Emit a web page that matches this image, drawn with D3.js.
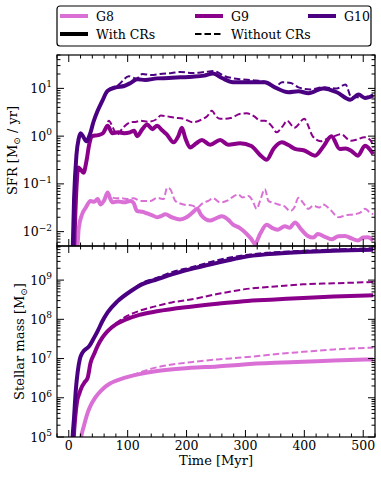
<!DOCTYPE html>
<html>
<head>
  <meta charset="utf-8">
  <title>SFR and stellar mass</title>
  <style>
    body { margin: 0; background: #fff; }
    svg { display: block; font-family: "DejaVu Serif", serif; }
    .frame { fill: none; stroke: #000; stroke-width: 1.2px; }
    .tick { stroke: #000; stroke-width: 1px; }
    .solid { fill: none; stroke-width: 4px; stroke-linejoin: round; stroke-linecap: butt; }
    .dashed { fill: none; stroke-width: 2px; stroke-dasharray: 6.5 3; }
  </style>
</head>
<body>
<svg width="381" height="477"></svg>
<script src="https://d3js.org/d3.v7.min.js"></script>
<script>
// galaxies and their colours
var galaxies = ['G8', 'G9', 'G10'];
var colors = ['#da70d6', '#8b008b', '#4b0082'];

// x axis ticks [Myr]
var timeTicks = [0, 100, 200, 300, 400, 500];

// SFR [Msun/yr], [time, value]
var sfrG10With = [[6,0.002],[9,0.05],[13,0.4],[17,0.9],[20,1.15],[24,1.0],[30,0.78],[36,1.1],[42,2.0],[49,3.4],[57,5.5],[66,8.9],[80,10.5],[94,11.2],[105,13],[116,15.5],[130,15],[150,16.2],[170,16.5],[190,17],[210,17.5],[230,18.5],[245,20.4],[260,16.5],[279,13.5],[295,13.5],[313,13.5],[333,13.5],[350,10.5],[373,8.3],[390,8.7],[407,7.9],[432,10],[455,8.3],[478,5.8],[492,7.4],[503,6.3],[517,7.1]];
var sfrG10Without = [[6,0.002],[9,0.05],[13,0.4],[17,0.9],[20,1.15],[24,1.0],[30,0.78],[36,1.1],[42,2.0],[49,3.4],[57,5.8],[70,9.5],[85,12],[102,18],[115,16],[125,20],[140,19],[155,20],[175,21],[189,22],[210,21],[230,22],[246,23],[265,18],[291,15.5],[313,14.8],[336,13.5],[350,10.5],[362,13.5],[377,13],[390,10.5],[410,9.5],[432,10.5],[455,10],[470,12],[480,6.5],[503,6.6],[517,7.4]];
var sfrG9With = [[9,0.004],[13,0.08],[16,0.22],[20,0.2],[25,0.17],[30,0.3],[35,0.7],[40,1.0],[50,1.05],[58,1.15],[66,1.65],[74,1.15],[84,1.2],[94,1.15],[104,1.2],[111,1.3],[116,1.0],[125,1.4],[133,1.75],[142,1.4],[150,1.65],[158,1.35],[166,1.1],[178,0.74],[186,1.0],[192,1.5],[198,0.9],[206,0.58],[216,0.7],[226,0.83],[240,0.66],[257,0.83],[271,0.66],[291,0.71],[310,0.62],[325,0.4],[336,0.32],[348,0.55],[362,0.74],[373,0.65],[384,0.54],[400,0.5],[418,0.39],[432,0.6],[446,1.0],[460,0.54],[470,0.55],[480,0.49],[491,0.39],[503,0.63],[517,0.42]];
var sfrG9Without = [[9,0.004],[13,0.08],[16,0.22],[20,0.2],[25,0.17],[30,0.3],[35,0.7],[40,1.0],[50,1.05],[58,1.2],[62,1.4],[68,2.1],[75,1.5],[82,1.07],[92,1.5],[105,1.95],[115,2.0],[122,2.1],[135,2.0],[150,2.3],[156,2.7],[167,2.6],[178,2.45],[195,2.3],[211,1.95],[225,2.2],[235,2.6],[243,3.4],[250,2.6],[257,2.3],[275,2.4],[290,2.9],[302,3.0],[315,2.6],[325,2.1],[333,2.1],[345,1.6],[353,1.2],[363,1.6],[371,2.1],[383,1.5],[400,2.3],[407,1.6],[414,1.0],[428,0.78],[440,0.9],[451,1.0],[462,1.1],[479,0.8],[490,0.85],[502,0.95],[513,0.8],[517,0.58]];
var sfrG8With = [[14,0.003],[17,0.012],[22,0.022],[29,0.032],[37,0.044],[43,0.042],[49,0.048],[54,0.037],[60,0.045],[66,0.066],[70,0.05],[74,0.041],[84,0.043],[94,0.041],[105,0.044],[110,0.04],[116,0.027],[125,0.026],[133,0.024],[142,0.022],[150,0.02],[156,0.021],[164,0.023],[175,0.02],[189,0.018],[200,0.02],[210,0.025],[218,0.03],[225,0.022],[240,0.017],[250,0.019],[260,0.021],[270,0.018],[279,0.014],[290,0.012],[302,0.009],[310,0.007],[316,0.0055],[325,0.009],[336,0.014],[345,0.012],[355,0.011],[367,0.013],[375,0.012],[384,0.0155],[395,0.011],[406,0.0081],[415,0.0075],[423,0.0089],[435,0.0078],[446,0.0069],[458,0.008],[469,0.0081],[480,0.0072],[491,0.0065],[500,0.0075],[508,0.0076],[517,0.0065]];
var sfrG8Without = [[14,0.003],[17,0.012],[22,0.022],[29,0.032],[37,0.044],[43,0.042],[49,0.048],[54,0.037],[60,0.045],[66,0.066],[70,0.055],[80,0.05],[90,0.05],[100,0.048],[110,0.05],[122,0.044],[139,0.044],[150,0.051],[161,0.048],[167,0.083],[172,0.078],[181,0.044],[195,0.037],[210,0.035],[218,0.032],[228,0.04],[237,0.044],[245,0.05],[257,0.041],[270,0.045],[280,0.055],[288,0.06],[295,0.052],[305,0.056],[312,0.045],[319,0.03],[325,0.045],[333,0.078],[339,0.044],[348,0.04],[356,0.037],[366,0.034],[376,0.027],[383,0.032],[390,0.051],[398,0.04],[407,0.03],[415,0.035],[425,0.032],[432,0.037],[445,0.028],[458,0.02],[470,0.022],[483,0.023],[495,0.025],[503,0.03],[510,0.026],[517,0.023]];

// stellar mass [Msun], [time, value]
var mstarG10With = [[5,2e4],[6,6.3e4],[9,3.2e5],[12,1.6e6],[15,4.4e6],[19,1.0e7],[23,1.4e7],[35,2.1e7],[42,3.2e7],[49,5.0e7],[57,8.9e7],[66,1.5e8],[83,2.9e8],[105,5.2e8],[125,7.9e8],[150,1.05e9],[175,1.4e9],[207,1.9e9],[252,2.75e9],[297,3.9e9],[340,4.6e9],[398,5.2e9],[450,5.6e9],[517,5.9e9]];
var mstarG10Without = [[5,2e4],[6,6.3e4],[9,3.2e5],[12,1.6e6],[15,4.4e6],[19,1.0e7],[23,1.4e7],[35,2.1e7],[42,3.2e7],[49,5.0e7],[57,8.9e7],[66,1.5e8],[83,2.9e8],[105,5.3e8],[125,8.5e8],[150,1.15e9],[175,1.6e9],[207,2.1e9],[252,3.2e9],[297,4.3e9],[340,5.0e9],[398,5.6e9],[450,6.0e9],[517,6.5e9]];
var mstarG9With = [[7,2e4],[8,6.3e4],[11,3.2e5],[14,7.9e5],[18,1.3e6],[23,2.0e6],[27,2.5e6],[32,3.2e6],[37,7.8e6],[43,1.3e7],[49,2.1e7],[57,3.4e7],[66,5.0e7],[80,7.4e7],[94,9.5e7],[120,1.3e8],[150,1.6e8],[207,2.1e8],[252,2.5e8],[297,2.9e8],[350,3.2e8],[398,3.5e8],[450,3.8e8],[517,4.1e8]];
var mstarG9Without = [[7,2e4],[8,6.3e4],[11,3.2e5],[14,7.9e5],[18,1.3e6],[23,2.0e6],[27,2.5e6],[32,3.2e6],[37,7.8e6],[43,1.3e7],[49,2.1e7],[57,3.4e7],[66,5.0e7],[80,7.9e7],[94,1.1e8],[120,1.65e8],[150,2.2e8],[175,2.7e8],[207,3.2e8],[252,4.4e8],[297,5.8e8],[350,6.9e8],[398,7.8e8],[450,8.3e8],[517,8.9e8]];
var mstarG8With = [[17,2e4],[18,5.0e4],[21,1.0e5],[26,2.0e5],[32,4.1e5],[37,6.3e5],[43,9.1e5],[50,1.26e6],[60,1.8e6],[70,2.3e6],[77,2.6e6],[94,3.2e6],[120,4.0e6],[150,4.8e6],[207,5.8e6],[252,6.3e6],[297,7.1e6],[350,7.8e6],[398,8.3e6],[450,8.9e6],[517,9.5e6]];
var mstarG8Without = [[17,2e4],[18,5.0e4],[21,1.0e5],[26,2.0e5],[32,4.1e5],[37,6.3e5],[43,9.1e5],[50,1.26e6],[60,1.8e6],[70,2.3e6],[77,2.6e6],[94,3.2e6],[100,3.4e6],[120,4.4e6],[150,6.0e6],[207,8.1e6],[252,9.5e6],[297,1.07e7],[350,1.29e7],[398,1.48e7],[450,1.7e7],[517,1.9e7]];

var sfrWith = [sfrG8With, sfrG9With, sfrG10With];
var sfrWithout = [sfrG8Without, sfrG9Without, sfrG10Without];
var mstarWith = [mstarG8With, mstarG9With, mstarG10With];
var mstarWithout = [mstarG8Without, mstarG9Without, mstarG10Without];

var svg = d3.select('svg');
var left = 57, right = 375, top1 = 55, mid = 246, bottom = 437;

var x = d3.scaleLinear().domain([-20, 520]).range([left, right]);
var ySfr = d3.scaleLog().domain([5e-3, 50]).range([mid, top1]);
var yMass = d3.scaleLog().domain([1e5, 7.4e9]).range([bottom, mid]);

var defs = svg.append('defs');
defs.append('clipPath').attr('id', 'clipTop').append('rect')
  .attr('x', left).attr('y', top1).attr('width', right - left).attr('height', mid - top1);
defs.append('clipPath').attr('id', 'clipBot').append('rect')
  .attr('x', left).attr('y', mid).attr('width', right - left).attr('height', bottom - mid);

function drawPanel(y, withData, withoutData, clipId) {
  var line = d3.line()
    .x(function(d) { return x(d[0]); })
    .y(function(d) { return y(d[1]); })
    .curve(d3.curveMonotoneX);
  var g = svg.append('g').attr('clip-path', 'url(#' + clipId + ')');
  galaxies.forEach(function(name, i) {
    g.append('path').attr('class', 'solid').attr('stroke', colors[i]).attr('d', line(withData[i]));
    g.append('path').attr('class', 'dashed').attr('stroke', colors[i]).attr('d', line(withoutData[i]));
  });
}

drawPanel(ySfr, sfrWith, sfrWithout, 'clipTop');
drawPanel(yMass, mstarWith, mstarWithout, 'clipBot');

// ticks, all pointing inwards
var ticks = svg.append('g');
function xTicks(y0, y1) {
  d3.range(-20, 521, 20).forEach(function(t) {
    var len = t % 100 === 0 ? 7 : 3.5;
    ticks.append('line').attr('class', 'tick').attr('x1', x(t)).attr('x2', x(t)).attr('y1', y0).attr('y2', y0 - len);
    ticks.append('line').attr('class', 'tick').attr('x1', x(t)).attr('x2', x(t)).attr('y1', y1).attr('y2', y1 + len);
  });
}
xTicks(mid, top1);
xTicks(bottom, mid);

function yTicks(y, lo, hi) {
  for (var e = lo; e <= hi; e++) {
    for (var m = 1; m < 10; m++) {
      var v = m * Math.pow(10, e);
      var d = y.domain();
      if (v < d[0] || v > d[1]) continue;
      var len = m === 1 ? 7 : 3.5;
      ticks.append('line').attr('class', 'tick').attr('x1', left).attr('x2', left + len).attr('y1', y(v)).attr('y2', y(v));
      ticks.append('line').attr('class', 'tick').attr('x1', right).attr('x2', right - len).attr('y1', y(v)).attr('y2', y(v));
    }
  }
}
yTicks(ySfr, -3, 1);
yTicks(yMass, 5, 9);

function yLabels(y, exps) {
  exps.forEach(function(e) {
    var t = svg.append('text').attr('x', left - 5).attr('y', y(Math.pow(10, e)) + 4.5)
      .attr('text-anchor', 'end').attr('font-size', 12.5);
    t.append('tspan').text('10');
    t.append('tspan').attr('dy', -5.5).attr('font-size', 9).text(String(e).replace('-', '\u2212'));
  });
}
yLabels(ySfr, [1, 0, -1, -2]);
yLabels(yMass, [9, 8, 7, 6, 5]);

svg.selectAll('.xlab').data(timeTicks).enter().append('text')
  .attr('x', function(d) { return x(d); }).attr('y', 450)
  .attr('text-anchor', 'middle').attr('font-size', 12.5).text(function(d) { return d; });

svg.append('text').attr('x', (left + right) / 2).attr('y', 465)
  .attr('text-anchor', 'middle').attr('font-size', 13).text('Time [Myr]');

var sfrLab = svg.append('text').attr('transform', 'translate(17,' + ((top1 + mid) / 2) + ') rotate(-90)')
  .attr('text-anchor', 'middle').attr('font-size', 13);
sfrLab.append('tspan').text('SFR [M');
sfrLab.append('tspan').attr('dy', 3).attr('font-size', 9).text('\u2299');
sfrLab.append('tspan').attr('dy', -3).text(' / yr]');

var massLab = svg.append('text').attr('transform', 'translate(24,' + ((mid + bottom) / 2) + ') rotate(-90)')
  .attr('text-anchor', 'middle').attr('font-size', 13);
massLab.append('tspan').text('Stellar mass [M');
massLab.append('tspan').attr('dy', 3).attr('font-size', 9).text('\u2299');
massLab.append('tspan').attr('dy', -3).text(']');

// panel frames
svg.append('rect').attr('class', 'frame').attr('x', left).attr('y', top1).attr('width', right - left).attr('height', mid - top1);
svg.append('rect').attr('class', 'frame').attr('x', left).attr('y', mid).attr('width', right - left).attr('height', bottom - mid);

// legend
var leg = svg.append('g');
leg.append('rect').attr('x', 57).attr('y', 6).attr('width', 314).attr('height', 40)
  .attr('rx', 3).attr('fill', '#fff').attr('stroke', '#000').attr('stroke-width', 1.2);
var legX = [60, 195, 308];
galaxies.forEach(function(name, i) {
  leg.append('line').attr('x1', legX[i]).attr('x2', legX[i] + 28).attr('y1', 16).attr('y2', 16)
    .attr('stroke', colors[i]).attr('stroke-width', 4);
  leg.append('text').attr('x', legX[i] + 36).attr('y', 20.5).attr('font-size', 12.5).text(name);
});
leg.append('line').attr('x1', legX[0]).attr('x2', legX[0] + 28).attr('y1', 34).attr('y2', 34)
  .attr('stroke', '#000').attr('stroke-width', 4);
leg.append('text').attr('x', legX[0] + 36).attr('y', 38.5).attr('font-size', 12.5).text('With CRs');
leg.append('line').attr('x1', legX[1]).attr('x2', legX[1] + 28).attr('y1', 34).attr('y2', 34)
  .attr('stroke', '#000').attr('stroke-width', 2).attr('stroke-dasharray', '6.5 3');
leg.append('text').attr('x', legX[1] + 36).attr('y', 38.5).attr('font-size', 12.5).text('Without CRs');
</script>
</body>
</html>
